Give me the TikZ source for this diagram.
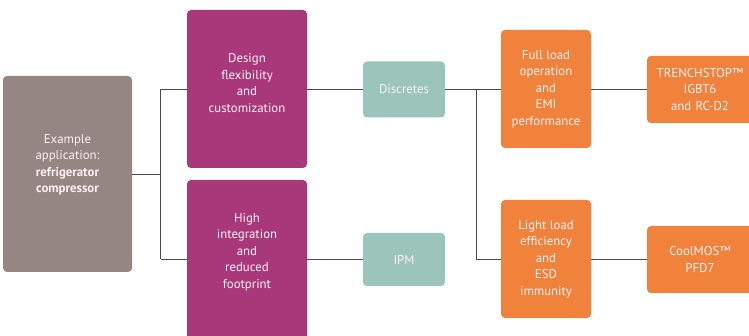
\documentclass[tikz,border=0pt]{standalone}
\usepackage{fontspec}
\setmainfont{PT Sans}
\definecolor{cgray}{HTML}{958583}
\definecolor{cmag}{HTML}{A8387A}
\definecolor{cteal}{HTML}{9BC5BA}
\definecolor{corange}{HTML}{F0823C}
\definecolor{cline}{HTML}{4A4A4A}
\definecolor{ctext}{HTML}{FBF1F4}
\begin{document}
\begin{tikzpicture}[x=1pt,y=-1pt,
  box/.style={rectangle, rounded corners=4pt, inner sep=0pt, align=center,
    text=ctext, font=\fontsize{12.8}{16.5}\selectfont},
  txt/.style={inner sep=0pt, align=center, text=ctext, font=\fontsize{12.8}{16.5}\selectfont},
  graybox/.style={box, fill=cgray},
  magbox/.style={box, fill=cmag},
  tealbox/.style={box, fill=cteal},
  orangebox/.style={box, fill=corange},
  link/.style={draw=cline, line width=0.9pt}]
\useasboundingbox (0,0) rectangle (749,336);
\node[graybox, minimum width=129pt, minimum height=196pt] (app) at (67.5,174) {};
\node[txt] (appT) at (67.5,165)
  {Example\\application:\\\textbf{refrigerator}\\\textbf{compressor}};
\node[magbox, minimum width=120pt, minimum height=158pt] (design) at (247,89) {};
\node[txt] (designT) at (247,83)
  {Design\\flexibility\\and\\customization};
\node[magbox, minimum width=120pt, minimum height=160pt] (high) at (247,260) {};
\node[txt] (highT) at (247,252)
  {High\\integration\\and\\reduced\\footprint};
\node[tealbox, minimum width=82pt, minimum height=56pt] (disc) at (404,89.5) {Discretes};
\node[tealbox, minimum width=82pt, minimum height=53pt] (ipm) at (404,259.5) {IPM};
\node[orangebox, minimum width=90pt, minimum height=118pt] (full) at (546,89)
  {Full load\\operation\\and\\EMI\\performance};
\node[orangebox, minimum width=90pt, minimum height=118pt] (light) at (546,259)
  {Light load\\efficiency\\and\\ESD\\immunity};
\node[orangebox, minimum width=106pt, minimum height=67pt, text width=100pt] (trench) at (700,89.5)
  {TRENCHSTOP™\\IGBT6\\and RC-D2};
\node[orangebox, minimum width=106pt, minimum height=67pt, text width=100pt] (cool) at (700,259.5)
  {CoolMOS™\\PFD7};
\coordinate (j1) at (160.5,174);
\coordinate (j1t) at (160.5,89);
\coordinate (j1b) at (160.5,259);
\coordinate (j2) at (476,89);
\coordinate (j2b) at (476,259);
\draw[link] (app.east |- j1) -- (j1);
\draw[link] (j1t) -- (j1b);
\draw[link] (j1t) -- (design.west |- j1t);
\draw[link] (j1b) -- (high.west |- j1b);
\draw[link] (design.east |- disc.west) -- (disc.west);
\draw[link] (high.east |- ipm.west) -- (ipm.west);
\draw[link] (disc.east) -- (full.west |- disc.east);
\draw[link] (j2) -- (j2b) -- (light.west |- j2b);
\draw[link] (full.east) -- (trench.west |- full.east);
\draw[link] (light.east) -- (cool.west |- light.east);
\end{tikzpicture}
\end{document}
